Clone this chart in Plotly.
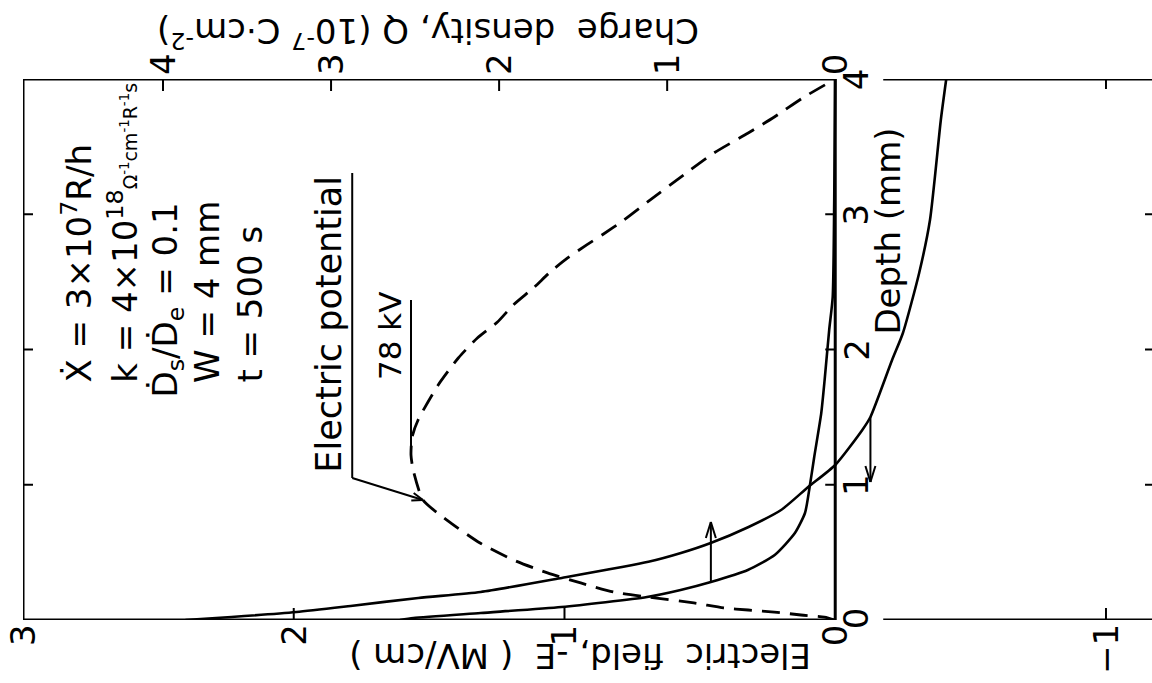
import math
import plotly.graph_objects as go

# ---------------- profiles across the sample depth ----------------
# electric field, -E (MV/cm)
depth_E = [0.0, 0.022, 0.059, 0.104, 0.163, 0.207, 0.311, 0.43, 0.495, 0.569, 0.688,
           0.813, 0.983, 1.146, 1.405, 1.501, 1.922, 2.122, 2.566, 2.957, 3.697, 4.0]
field_E = [2.40, 2.23, 1.99, 1.79, 1.54, 1.31, 1.01, 0.69, 0.57, 0.46, 0.32,
           0.20, 0.10, 0.00, -0.10, -0.13, -0.21, -0.25, -0.31, -0.35, -0.39, -0.41]

# charge density, Q (10^-7 C/cm^2)
depth_Q = [0.0, 0.015, 0.052, 0.096, 0.170, 0.222, 0.281, 0.370, 0.481, 0.643,
           0.791, 0.961, 1.205, 1.531, 1.775, 2.144, 2.388, 3.1, 4.0]
charge_Q = [2.59, 2.51, 2.11, 1.63, 1.12, 0.92, 0.74, 0.52, 0.36, 0.24,
            0.18, 0.155, 0.125, 0.083, 0.063, 0.036, 0.015, 0.006, 0.0]

# electric potential (kV)
depth_V = [0.0, 0.022, 0.037, 0.059, 0.074, 0.089, 0.126, 0.170, 0.207, 0.274,
           0.348, 0.444, 0.569, 0.739, 0.887, 1.109, 1.22, 1.353, 1.479, 1.738,
           1.937, 2.085, 2.203, 2.329, 2.455, 2.573, 2.677, 2.773, 2.854, 2.950,
           3.091, 3.275, 3.453, 3.601, 3.719, 3.867, 4.0]
potential_V = [0.0, 2.0, 6.3, 11.2, 16.0, 20.5, 26.0, 34.5, 40.8, 46.8,
               52.9, 59.2, 65.3, 71.4, 75.8, 77.6, 78.0, 77.8, 76.7, 73.0,
               69.3, 65.8, 62.1, 59.2, 55.5, 52.4, 49.2, 45.7, 42.6, 39.1,
               34.5, 28.4, 22.3, 16.0, 11.2, 5.7, 0.0]

# axis ticks
E_ticks = [3, 2, 1, 0, -1]
Q_ticks = [4, 3, 2, 1, 0]
depth_ticks = [0, 1, 2, 3, 4]

params = [
    "X\u0307 = 3\u00d710<sup>7</sup>R/h",
    "k = 4\u00d710<sup>18</sup><span style='font-size:19px'>\u03a9<sup>-1</sup>cm<sup>-1</sup>R<sup>-1</sup>s</span>",
    "\u1e0a<sub>s</sub>/\u1e0a<sub>e</sub> = 0.1",
    "W = 4 mm",
    "t = 500 s",
]

# ---------------- geometry ----------------
W, H = 1152, 683
M = dict(l=23, r=0, t=79, b=63)
PW = W - M["l"] - M["r"]
PH = H - M["t"] - M["b"]
E_RANGE = [3.0, -1.17]          # field axis runs right-to-left
D_RANGE = [0.0, 4.0]
Q_PER_E = 1.611                 # charge-density units per field unit
V_PER_E = 49.78                 # kV per field unit
e_px = PW / (E_RANGE[0] - E_RANGE[1])
d_px = PH / (D_RANGE[1] - D_RANGE[0])

INK = "black"
FONT = "DejaVu Sans"

fig = go.Figure()
fig.add_trace(go.Scatter(x=field_E, y=depth_E, mode="lines", xaxis="x", yaxis="y",
                         line=dict(color=INK, width=2.6, shape="spline", smoothing=0.6),
                         hoverinfo="skip", showlegend=False))
fig.add_trace(go.Scatter(x=charge_Q, y=depth_Q, mode="lines", xaxis="x2", yaxis="y",
                         line=dict(color=INK, width=2.6, shape="spline", smoothing=0.6),
                         hoverinfo="skip", showlegend=False))
fig.add_trace(go.Scatter(x=potential_V, y=depth_V, mode="lines", xaxis="x3", yaxis="y",
                         line=dict(color=INK, width=2.8, dash="18px,10px",
                                   shape="spline", smoothing=0.6),
                         hoverinfo="skip", showlegend=False))

shapes = []


def seg(x0, y0, x1, y1, xref="x", yref="y", w=3):
    shapes.append(dict(type="line", xref=xref, yref=yref, x0=x0, y0=y0, x1=x1, y1=y1,
                       line=dict(color=INK, width=w)))


def arrow(x_tail, d_tail, x_tip, d_tip, head_len=16, head_half=5, w=2):
    """Straight arrow in field/depth coordinates with an open V head."""
    vx = -(x_tail - x_tip) * e_px
    vy = -(d_tail - d_tip) * d_px
    n = math.hypot(vx, vy)
    ux, uy = vx / n, vy / n
    nx, ny = -uy, ux
    seg(x_tail, d_tail, x_tip, d_tip, w=w)
    for s in (1, -1):
        hx = head_len * ux + s * head_half * nx
        hy = head_len * uy + s * head_half * ny
        seg(x_tip - hx / e_px, d_tip - hy / d_px, x_tip, d_tip, w=w)


# frame
gap_E = -48 / e_px   # opening in top/bottom lines beside the depth axis labels
seg(E_RANGE[0], D_RANGE[0], E_RANGE[0], D_RANGE[1])
seg(0, D_RANGE[0], 0, D_RANGE[1])
for d in D_RANGE:
    seg(E_RANGE[0], d, 0, d)
    seg(gap_E, d, E_RANGE[1], d)

# ticks
tl = 12
for q in Q_ticks[:-1]:
    seg(q, D_RANGE[1], q, D_RANGE[1] - tl / d_px, xref="x2", w=2)
for e in E_ticks[1:3] + E_ticks[4:]:
    seg(e, D_RANGE[0], e, D_RANGE[0] + tl / d_px, w=2)
seg(-1, D_RANGE[1], -1, D_RANGE[1] - 10 / d_px, w=2)
for d in depth_ticks[1:-1]:
    seg(E_RANGE[0], d, E_RANGE[0] - 10 / e_px, d, w=2)
    seg(0, d, 10 / e_px, d, w=2)
    seg(E_RANGE[1], d, E_RANGE[1] + 7 / e_px, d, w=2)

# arrows telling which axis each solid curve belongs to
iq = depth_Q.index(0.281)
arrow(charge_Q[iq] / Q_PER_E, depth_Q[iq], charge_Q[iq] / Q_PER_E, 0.725)
ie = depth_E.index(1.501)
arrow(field_E[ie], depth_E[ie], field_E[ie], 1.02)

# potential label, underline and leader
v_max = max(potential_V)
iv = depth_V.index(0.887)
lead_x = 1.784
seg(lead_x, 3.305, lead_x, 1.05, w=2)
arrow(lead_x, 1.05, potential_V[iv] / V_PER_E, depth_V[iv], head_len=11, head_half=4)
seg(v_max, 1.257, v_max, 2.366, xref="x3", w=2)

ann = []
tf = dict(family=FONT, size=34, color=INK)

for e in E_ticks:
    ann.append(dict(x=e, y=D_RANGE[0], xref="x", yref="y",
                    text=str(e).replace("-", "\u2212") if e < 0 else str(e),
                    showarrow=False, textangle=-90, xanchor="center", yanchor="top",
                    yshift=-2, font=tf))
for q in Q_ticks:
    ann.append(dict(x=q, y=D_RANGE[1], xref="x2", yref="y", text=str(q),
                    showarrow=False, textangle=-90, xanchor="center", yanchor="bottom",
                    yshift=2, font=tf))
for d in depth_ticks:
    ann.append(dict(x=0, y=d, xref="x", yref="y", text=str(d),
                    showarrow=False, textangle=-90, xanchor="center", yanchor="middle",
                    xshift=21, yshift=2 if d == 0 else 0, font=tf))

ann.append(dict(x=0.4934, y=-0.067, xref="paper", yref="paper",
                text="Electric\u00a0\u00a0field,\u00a0-E\u00a0\u00a0(\u00a0MV/cm\u00a0)",
                showarrow=False, textangle=180, xanchor="center", yanchor="middle", font=tf))
ann.append(dict(x=0.3587, y=1.085, xref="paper", yref="paper",
                text="Charge\u00a0\u00a0density,\u00a0Q\u00a0(10<sup>-7</sup>\u00a0C\u00b7cm<sup>-2</sup>)",
                showarrow=False, textangle=180, xanchor="center", yanchor="middle", font=tf))
ann.append(dict(x=-0.195, y=2.092, xref="x", yref="y", text="Depth\u00a0(mm)",
                showarrow=False, textangle=-90, xanchor="center", yanchor="bottom", font=tf))

param_x = [2.800, 2.631, 2.468, 2.320, 2.161]
param_d = [1.738, 1.738, 1.627, 1.738, 1.738]
for txt, x, d in zip(params, param_x, param_d):
    ann.append(dict(x=x, y=d, xref="x", yref="y", text=txt, showarrow=False,
                    textangle=-90, xanchor="center", yanchor="bottom", font=tf))

ann.append(dict(x=1.873, y=1.072, xref="x", yref="y", text="Electric potential",
                showarrow=False, textangle=-90, xanchor="center", yanchor="bottom",
                font=dict(family=FONT, size=35, color=INK)))
ann.append(dict(x=v_max, y=1.76, xref="x3", yref="y", text=f"{v_max:.0f} kV",
                showarrow=False, textangle=-90, xanchor="center", yanchor="bottom",
                xshift=-21, font=dict(family=FONT, size=31, color=INK)))

hidden = dict(visible=False, showgrid=False, zeroline=False, fixedrange=True)
fig.update_layout(
    width=W, height=H, autosize=False, margin=M,
    paper_bgcolor="white", plot_bgcolor="white",
    xaxis=dict(range=E_RANGE, **hidden),
    xaxis2=dict(range=[r * Q_PER_E for r in E_RANGE], overlaying="x", anchor="y", side="top", **hidden),
    xaxis3=dict(range=[r * V_PER_E for r in E_RANGE], overlaying="x", anchor="y", side="top", **hidden),
    yaxis=dict(range=D_RANGE, **hidden),
    shapes=shapes, annotations=ann, showlegend=False,
)

fig.write_html("out.html")
